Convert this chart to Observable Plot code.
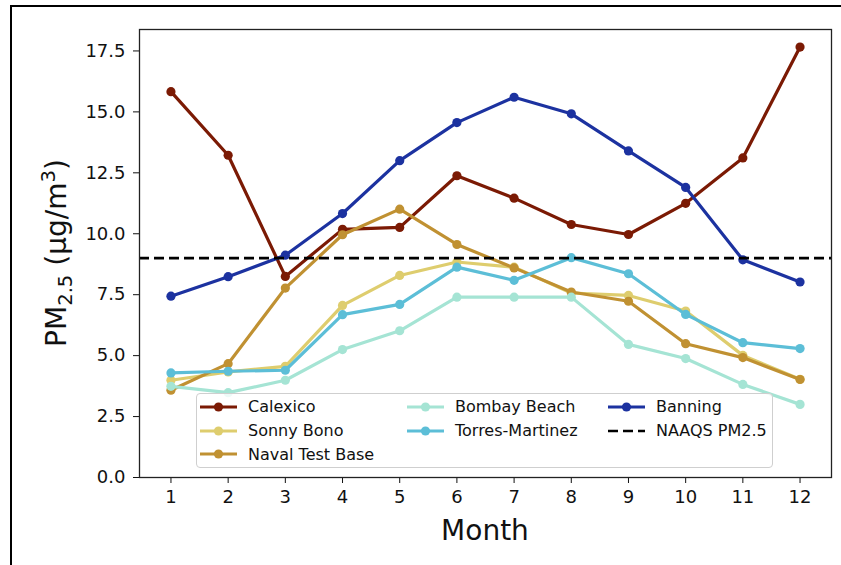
<!DOCTYPE html>
<html>
<head>
<meta charset="utf-8">
<script src="https://cdn.jsdelivr.net/npm/d3@7"></script>
<script src="https://cdn.jsdelivr.net/npm/@observablehq/plot@0.6"></script>
<style>
  html, body { margin: 0; padding: 0; background: #fff; overflow: hidden; }
  #wrap { position: relative; width: 841px; height: 565px; font-family: "DejaVu Sans", sans-serif; }
  #border { position: absolute; left: 9.5px; top: 5px; width: 900px; height: 700px; border: 2px solid #000; box-sizing: border-box; pointer-events: none; }
  #legend { position: absolute; left: 196px; top: 393px; width: 577px; height: 75px; box-sizing: border-box;
            background: rgba(255,255,255,0.8); border: 1px solid #cfcfcf; border-radius: 4px; }
  .item { position: absolute; display: flex; align-items: center; font-size: 16px; color: #111; white-space: nowrap; }
  .item svg { margin-right: 11px; }
</style>
</head>
<body>
<div id="wrap">
  <div id="chart"></div>
  <div id="legend"></div>
  <div id="border"></div>
</div>
<script>
// Monthly mean PM2.5 per monitoring site
const months = [1, 2, 3, 4, 5, 6, 7, 8, 9, 10, 11, 12];
const sites = ["Calexico", "Sonny Bono", "Naval Test Base", "Bombay Beach", "Torres-Martinez", "Banning"];
const siteColors = ["#7b1a04", "#decd6e", "#c09132", "#a5e4d4", "#5cbed7", "#1c32a0"];

const calexico       = [15.83, 13.22, 8.25, 10.18, 10.26, 12.38, 11.46, 10.38, 9.97, 11.25, 13.11, 17.66];
const sonnyBono      = [3.99, 4.33, 4.56, 7.06, 8.29, 8.84, 8.63, 7.57, 7.47, 6.83, 5.01, 4.03];
const navalTestBase  = [3.58, 4.67, 7.77, 9.96, 11.01, 9.56, 8.60, 7.61, 7.23, 5.49, 4.92, 4.02];
const bombayBeach    = [3.74, 3.48, 3.99, 5.25, 6.02, 7.40, 7.40, 7.40, 5.46, 4.88, 3.82, 3.00];
const torresMartinez = [4.29, 4.36, 4.40, 6.68, 7.10, 8.63, 8.09, 9.02, 8.36, 6.69, 5.53, 5.29];
const banning        = [7.44, 8.24, 9.12, 10.83, 13.00, 14.56, 15.60, 14.92, 13.40, 11.90, 8.93, 8.02];

const seriesValues = [calexico, sonnyBono, navalTestBase, bombayBeach, torresMartinez, banning];

// National standard for annual PM2.5
const naaqsLabel = "NAAQS PM2.5";
const naaqsValue = 9.0;

const yTicks = [0, 2.5, 5, 7.5, 10, 12.5, 15, 17.5];

const rows = sites.map((site, i) => months.map((m, j) => ({site, month: m, value: seriesValues[i][j]})));

// each site draws its line and then its markers, so later sites sit on top
const siteMarks = rows.flatMap((data, i) => [
  Plot.line(data, {x: "month", y: "value", stroke: siteColors[i], strokeWidth: 3.2}),
  Plot.dot(data, {x: "month", y: "value", fill: siteColors[i], r: 4.6})
]);

const chart = Plot.plot({
  width: 841,
  height: 565,
  marginLeft: 139,
  marginRight: 10,
  marginTop: 29,
  marginBottom: 88,
  style: {fontFamily: "DejaVu Sans", fontSize: "18px", color: "#111", background: "transparent"},
  x: {domain: [0.45, 12.55], ticks: months, tickFormat: d3.format("d"), tickSize: 6, tickPadding: 7, label: null},
  y: {domain: [0, 18.38], ticks: yTicks, tickFormat: d3.format(".1f"), tickSize: 6, tickPadding: 8, label: null},
  marks: [
    ...siteMarks,
    Plot.ruleY([naaqsValue], {stroke: "#000", strokeWidth: 2.6, strokeDasharray: "10,5"}),
    Plot.frame({stroke: "#222", strokeWidth: 1.3})
  ]
});
document.getElementById("chart").appendChild(chart);

// axis titles (the y title needs sub- and superscripts)
const svg = d3.select(chart);
svg.append("text")
  .attr("x", 485).attr("y", 540)
  .attr("text-anchor", "middle")
  .attr("font-size", 28).attr("fill", "#111")
  .text("Month");

const yt = svg.append("text")
  .attr("transform", "translate(66,253) rotate(-90)")
  .attr("text-anchor", "middle")
  .attr("font-size", 28).attr("fill", "#111");
yt.append("tspan").text("PM");
yt.append("tspan").attr("font-size", 19.6).attr("dy", 6).text("2.5");
yt.append("tspan").attr("dy", -6).text("\u00a0(\u00b5g/m");
yt.append("tspan").attr("font-size", 19.6).attr("dy", -11).text("3");
yt.append("tspan").attr("dy", 11).text(")");

// legend: seven entries in three columns of 3, 2 and 2, filled column by column
const legendEntries = sites.map((s, i) => ({label: s, color: siteColors[i], dashed: false}))
  .concat([{label: naaqsLabel, color: "#000", dashed: true}]);
const colSizes = [3, 2, 2];
const colLeft = [3, 210, 411];
const rowTop = [12.5, 36.5, 60];
const legend = document.getElementById("legend");
let k = 0;
colSizes.forEach((n, col) => {
  for (let row = 0; row < n; row++, k++) {
    const e = legendEntries[k];
    const div = document.createElement("div");
    div.className = "item";
    div.style.left = colLeft[col] + "px";
    div.style.top = (rowTop[row] - 10) + "px";
    div.style.height = "20px";
    const sw = e.dashed
      ? `<svg width="37" height="12"><line x1="0" y1="6" x2="37" y2="6" stroke="#000" stroke-width="2.6" stroke-dasharray="10,5"/></svg>`
      : `<svg width="37" height="12"><line x1="0" y1="6" x2="37" y2="6" stroke="${e.color}" stroke-width="3.2"/><circle cx="18.5" cy="6" r="4.6" fill="${e.color}"/></svg>`;
    div.innerHTML = sw + `<span>${e.label}</span>`;
    legend.appendChild(div);
  }
});
</script>
</body>
</html>
